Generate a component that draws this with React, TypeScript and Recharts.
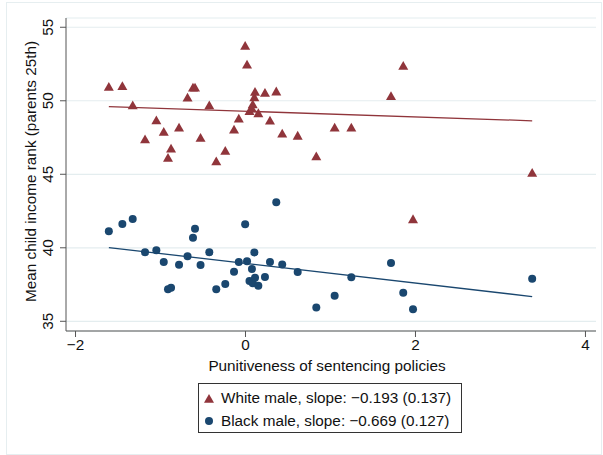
import { ScatterChart, Scatter, XAxis, YAxis, CartesianGrid } from 'recharts'

// punitiveness of sentencing policies, one value per state
const punitiveness = [
    -1.608, -1.449, -1.327, -1.182, -1.049, -0.962, -0.912, -0.876, -0.782, -0.682,
    -0.618, -0.594, -0.529, -0.426, -0.344, -0.238, -0.135, -0.079, -0.004, 0.018,
    0.047, 0.076, 0.085, 0.104, 0.112, 0.151, 0.229, 0.288, 0.362, 0.432,
    0.614, 0.833, 1.049, 1.245, 1.712, 1.856, 1.971, 3.373,
]

// mean child income rank, parents at 25th pct
const whiteMale = [
    50.96, 51.01, 49.71, 47.4, 48.69, 47.9, 46.13, 46.77, 48.2, 50.24,
    50.92, 50.92, 47.49, 49.71, 45.9, 46.61, 48.06, 48.8, 53.75, 52.48,
    49.31, 49.49, 49.78, 50.26, 50.62, 49.17, 50.56, 48.67, 50.65, 47.79,
    47.64, 46.24, 48.2, 48.2, 50.33, 52.39, 41.96, 45.11,
]

const blackMale = [
    41.12, 41.62, 41.96, 39.69, 39.83, 39.03, 37.18, 37.29, 38.85, 39.42,
    40.69, 41.3, 38.83, 39.69, 37.18, 37.54, 38.37, 39.03, 41.6, 39.08,
    37.74, 38.56, 37.59, 39.68, 37.97, 37.41, 38.01, 39.03, 43.1, 38.86,
    38.35, 35.93, 36.74, 37.99, 38.97, 36.95, 35.82, 37.9,
]

// fitted lines (weighted fit, slope from the legend, intercept)
const whiteSlope = -0.193
const whiteIntercept = 49.29
const blackSlope = -0.669
const blackIntercept = 38.94

const xTicks = [-2, 0, 2, 4]
const yTicks = [35, 40, 45, 50, 55]

const legendLabels = [
    'White male, slope: \u22120.193 (0.137)',
    'Black male, slope: \u22120.669 (0.127)',
]

const RED = '#90353b'
const NAVY = '#1a476f'
const FONT = '"Liberation Sans", Arial, Helvetica, sans-serif'

const toPoints = (ys: number[]) => punitiveness.map((x, i) => ({ x, y: ys[i] }))

// line across the observed x range
const fitLine = (a: number, b: number) => {
    const lo = Math.min(...punitiveness)
    const hi = Math.max(...punitiveness)
    return [
        { x: lo, y: a + b * lo },
        { x: hi, y: a + b * hi },
    ]
}

const Triangle = ({ cx, cy, color }: any) => (
    <polygon
        points={`${cx},${cy - 4.6} ${cx - 5},${cy + 4.2} ${cx + 5},${cy + 4.2}`}
        fill={color}
    />
)

const Dot = ({ cx, cy, color }: any) => <circle cx={cx} cy={cy} r={4} fill={color} />

const YTick = ({ x, y, payload }: any) => (
    <text
        x={x - 5}
        y={y}
        transform={`rotate(-90 ${x - 5} ${y})`}
        textAnchor="middle"
        fontSize={15.3}
        fontFamily={FONT}
        fill="#111"
    >
        {payload.value}
    </text>
)

const XTick = ({ x, y, payload }: any) => (
    <text
        x={x}
        y={y + 11}
        textAnchor="middle"
        fontSize={15.3}
        fontFamily={FONT}
        fill="#111"
    >
        {payload.value < 0 ? `\u2212${Math.abs(payload.value)}` : payload.value}
    </text>
)

const App = () => {
    const whitePts = toPoints(whiteMale)
    const blackPts = toPoints(blackMale)
    const whiteFit = fitLine(whiteIntercept, whiteSlope)
    const blackFit = fitLine(blackIntercept, blackSlope)

    return (
        <div style={{ position: 'absolute', left: 0, top: 0, width: 603, height: 455, background: '#fff' }}>
            <div
                style={{
                    position: 'absolute',
                    left: 6,
                    top: 2,
                    width: 594,
                    height: 451,
                    border: '1px solid #e6eef0',
                }}
            />
            <ScatterChart
                width={603}
                height={455}
                margin={{ top: 18, right: 7, left: 0, bottom: 0 }}
                style={{ position: 'absolute', left: 0, top: 0 }}
            >
                <CartesianGrid horizontal vertical={false} stroke="#e4edef" strokeWidth={1.2} />
                <XAxis
                    type="number"
                    dataKey="x"
                    domain={[-2.112, 4.124]}
                    ticks={xTicks}
                    allowDataOverflow
                    height={124}
                    tickSize={6}
                    stroke="#555"
                    tick={<XTick />}
                    label={({ viewBox }: any) => (
                        <text
                            x={viewBox.x + viewBox.width / 2 - 4}
                            y={viewBox.y + 40}
                            textAnchor="middle"
                            fontSize={15.3}
                            fontFamily={FONT}
                            fill="#111"
                        >
                            Punitiveness of sentencing policies
                        </text>
                    )}
                />
                <YAxis
                    type="number"
                    dataKey="y"
                    domain={[34.34, 55.63]}
                    ticks={yTicks}
                    allowDataOverflow
                    width={66}
                    tickSize={6}
                    stroke="#555"
                    tick={<YTick />}
                    label={({ viewBox }: any) => (
                        <text
                            transform={`translate(36 ${viewBox.y + viewBox.height / 2 - 3}) rotate(-90)`}
                            textAnchor="middle"
                            fontSize={15.3}
                            fontFamily={FONT}
                            fill="#111"
                        >
                            Mean child income rank (parents 25th)
                        </text>
                    )}
                />
                <Scatter
                    data={whitePts}
                    isAnimationActive={false}
                    shape={(p: any) => <Triangle cx={p.cx} cy={p.cy} color={RED} />}
                />
                <Scatter
                    data={blackPts}
                    isAnimationActive={false}
                    shape={(p: any) => <Dot cx={p.cx} cy={p.cy} color={NAVY} />}
                />
                <Scatter
                    data={whiteFit}
                    isAnimationActive={false}
                    line={{ stroke: RED, strokeWidth: 1.3 }}
                    shape={() => <g />}
                />
                <Scatter
                    data={blackFit}
                    isAnimationActive={false}
                    line={{ stroke: NAVY, strokeWidth: 1.3 }}
                    shape={() => <g />}
                />
            </ScatterChart>
            <div
                style={{
                    position: 'absolute',
                    left: 198,
                    top: 383,
                    width: 264,
                    height: 50,
                    border: '1px solid #333',
                    background: '#fff',
                    fontFamily: FONT,
                    fontSize: 15.3,
                    color: '#111',
                    boxSizing: 'border-box',
                }}
            >
                {legendLabels.map((label, i) => (
                    <div
                        key={label}
                        style={{
                            position: 'absolute',
                            left: 4,
                            top: 4 + i * 23,
                            height: 20,
                            display: 'flex',
                            alignItems: 'center',
                            whiteSpace: 'nowrap',
                        }}
                    >
                        <svg width={12} height={12} style={{ marginRight: 6 }}>
                            {i === 0 ? (
                                <Triangle cx={6} cy={6.5} color={RED} />
                            ) : (
                                <Dot cx={6} cy={6} color={NAVY} />
                            )}
                        </svg>
                        {label}
                    </div>
                ))}
            </div>
        </div>
    )
}

export default App
